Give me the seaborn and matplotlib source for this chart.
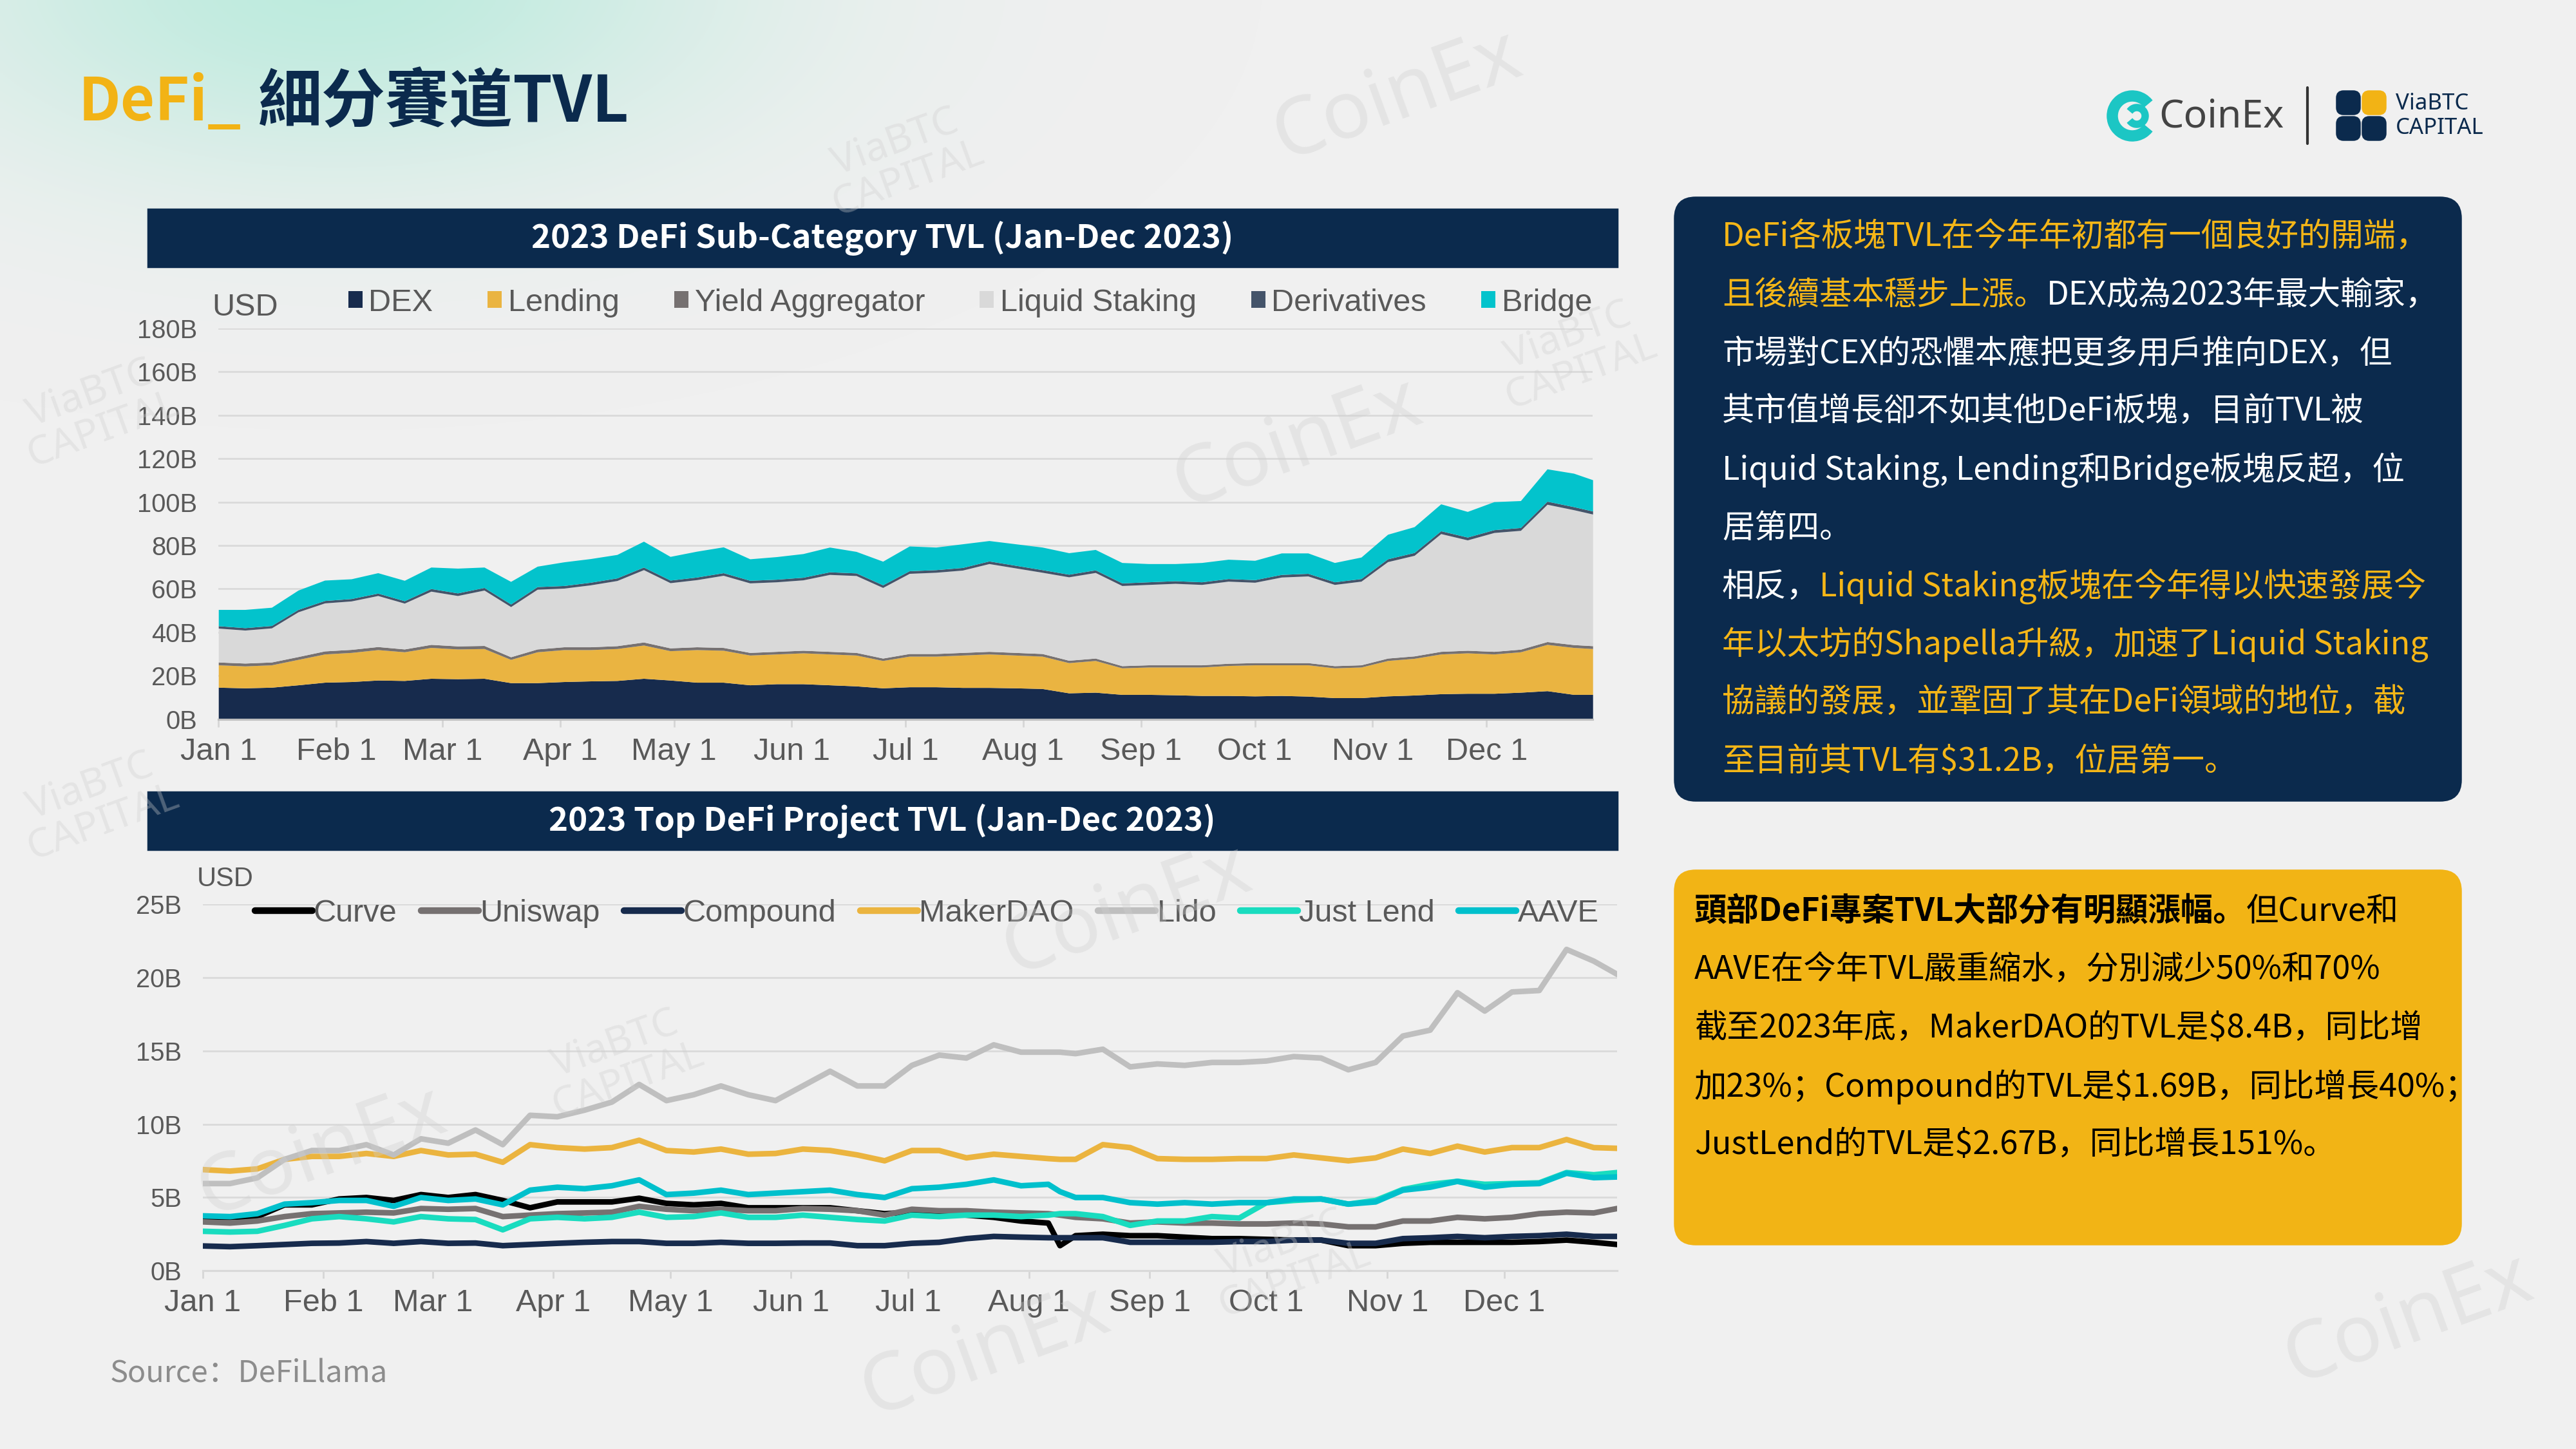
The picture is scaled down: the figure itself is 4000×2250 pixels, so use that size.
import numpy as np
import pandas as pd
import matplotlib
matplotlib.use("Agg")
import matplotlib.pyplot as plt
import seaborn as sns
from matplotlib.patches import Patch, FancyBboxPatch, Wedge, Rectangle
from matplotlib.lines import Line2D
from matplotlib.ticker import FuncFormatter

# ---------------- data: 2023 DeFi sub-category TVL (B USD) ----------------
days1 = list(range(0, 358, 7)) + [362]
dex = [14.7, 14.4, 14.7, 15.8, 17.0, 17.3, 18.0, 17.8, 18.8, 18.6, 18.8, 16.8, 16.8, 17.3, 17.6, 17.8,
       18.8, 18.0, 17.0, 17.0, 15.8, 16.3, 16.3, 15.8, 15.3, 14.4, 14.9, 14.9, 14.6, 14.6, 14.4, 14.1,
       12.1, 12.4, 11.4, 11.4, 11.2, 10.9, 10.9, 10.7, 10.9, 10.6, 9.9, 9.9, 10.7, 11.1, 11.7, 11.9,
       11.9, 12.4, 13.1, 11.4, 11.4]
lending = [10.3, 10.1, 10.3, 11.7, 13.0, 13.4, 14.0, 13.2, 14.2, 13.7, 13.7, 10.7, 14.2, 14.7, 14.4, 14.7,
           15.3, 13.5, 15.0, 14.7, 13.7, 13.7, 14.2, 14.2, 14.2, 12.6, 14.1, 14.1, 14.9, 15.4, 15.1, 14.9,
           13.9, 14.6, 12.2, 12.6, 12.8, 13.1, 13.8, 14.3, 14.1, 14.4, 13.7, 14.1, 16.3, 16.9, 18.3, 18.6,
           18.1, 18.6, 21.3, 21.6, 21.1]
yield_agg = [1.3, 1.3, 1.3, 1.3, 1.4, 1.4, 1.4, 1.3, 1.4, 1.4, 1.4, 1.2, 1.3, 1.3, 1.3, 1.3,
             1.4, 1.3, 1.3, 1.3, 1.2, 1.2, 1.2, 1.2, 1.2, 1.1, 1.2, 1.2, 1.2, 1.2, 1.2, 1.2,
             1.1, 1.1, 1.0, 1.0, 1.0, 1.0, 1.0, 1.0, 1.0, 1.0, 1.0, 1.0, 1.1, 1.1, 1.2, 1.2,
             1.2, 1.2, 1.3, 1.3, 1.3]
liquid = [15.6, 15.2, 15.7, 20.6, 22.1, 22.3, 23.5, 21.1, 24.5, 23.2, 25.5, 23.1, 27.5, 27.0, 28.5, 30.0,
          33.3, 30.0, 30.9, 33.2, 32.0, 32.0, 32.4, 35.4, 35.4, 32.5, 36.9, 37.4, 37.9, 40.4, 38.9, 37.4,
          38.4, 39.4, 36.9, 37.0, 37.5, 37.0, 37.8, 37.0, 39.4, 39.9, 37.4, 38.5, 44.4, 46.3, 54.2, 50.8,
          54.7, 54.7, 63.2, 62.1, 60.6]
deriv = [1.1, 1.1, 1.1, 1.1, 1.1, 1.1, 1.1, 1.1, 1.2, 1.2, 1.2, 1.2, 1.2, 1.2, 1.2, 1.2,
         1.2, 1.2, 1.2, 1.2, 1.2, 1.2, 1.2, 1.2, 1.2, 1.2, 1.2, 1.2, 1.2, 1.2, 1.2, 1.2,
         1.2, 1.2, 1.2, 1.2, 1.2, 1.2, 1.2, 1.2, 1.2, 1.2, 1.2, 1.2, 1.3, 1.3, 1.3, 1.3,
         1.3, 1.3, 1.4, 1.4, 1.4]
bridge = [7.5, 8.4, 8.4, 8.9, 9.4, 9.1, 9.4, 9.4, 9.9, 11.4, 9.4, 10.4, 9.4, 10.9, 10.9, 10.8,
          11.9, 10.9, 11.9, 11.9, 9.9, 10.4, 10.9, 11.4, 9.9, 10.9, 11.4, 10.4, 10.9, 9.4, 9.9, 10.4,
          9.9, 9.4, 9.4, 8.4, 7.9, 8.9, 8.9, 8.9, 9.9, 9.4, 8.9, 9.9, 11.3, 11.9, 12.4, 11.8,
          12.9, 12.4, 14.9, 15.4, 14.4]
categories = ["DEX", "Lending", "Yield Aggregator", "Liquid Staking", "Derivatives", "Bridge"]
cat_colors = ["#172B4D", "#EAB441", "#767171", "#D9D9D9", "#44546A", "#03C3CC"]

# ---------------- data: top DeFi projects TVL (B USD) ----------------
days2 = list(range(0, 218, 7)) + [220] + list(range(224, 358, 7)) + [363]
curve = [3.65, 3.65, 3.7, 4.5, 4.5, 4.9, 5.0, 4.8, 5.2, 5.0, 5.2, 4.8, 4.3, 4.7, 4.7, 4.7,
         4.95, 4.6, 4.5, 4.6, 4.3, 4.3, 4.3, 4.3, 4.1, 3.9,
         4.0, 3.95, 3.8, 3.65, 3.4, 3.26, 1.72, 2.4, 2.5, 2.4, 2.4, 2.3, 2.2, 2.2, 2.15, 2.1,
         2.1, 1.72, 1.72, 1.88, 1.95, 1.95, 1.95, 1.95, 2.0, 2.1, 1.95, 1.8]
uniswap = [3.34, 3.26, 3.4, 3.7, 3.9, 3.95, 4.0, 3.95, 4.25, 4.2, 4.25, 3.7, 3.8, 3.9, 3.95, 4.0,
           4.4, 4.2, 4.1, 4.2, 4.1, 4.1, 4.25, 4.2, 4.1, 3.8,
           4.2, 4.1, 4.1, 4.0, 3.95, 3.9, 3.8, 3.65, 3.55, 3.26, 3.34, 3.26, 3.26, 3.2, 3.2, 3.26,
           3.2, 3.0, 3.0, 3.4, 3.4, 3.65, 3.55, 3.65, 3.9, 4.0, 3.95, 4.25]
compound = [1.7, 1.65, 1.72, 1.8, 1.88, 1.9, 2.0, 1.88, 2.0, 1.88, 1.9, 1.72, 1.8, 1.88, 1.95, 2.0,
            2.0, 1.88, 1.88, 1.95, 1.88, 1.88, 1.9, 1.9, 1.72, 1.72,
            1.88, 1.95, 2.2, 2.35, 2.3, 2.26, 2.26, 2.26, 2.26, 1.95, 1.95, 1.95, 1.95, 2.0, 2.0, 2.1,
            2.1, 1.88, 1.88, 2.2, 2.26, 2.35, 2.26, 2.35, 2.4, 2.5, 2.35, 2.35]
makerdao = [6.9, 6.8, 6.95, 7.6, 7.8, 7.8, 8.0, 7.8, 8.2, 7.9, 7.95, 7.4, 8.6, 8.4, 8.3, 8.4,
            8.9, 8.2, 8.1, 8.3, 7.95, 8.0, 8.3, 8.2, 7.9, 7.5,
            8.2, 8.2, 7.7, 7.95, 7.8, 7.65, 7.6, 7.6, 8.6, 8.4, 7.65, 7.6, 7.6, 7.65, 7.65, 7.9,
            7.7, 7.5, 7.7, 8.3, 8.0, 8.5, 8.1, 8.4, 8.4, 8.95, 8.4, 8.35]
lido = [5.95, 5.95, 6.34, 7.6, 8.2, 8.2, 8.6, 7.9, 9.0, 8.7, 9.6, 8.6, 10.6, 10.5, 10.95, 11.5,
        12.7, 11.6, 12.0, 12.6, 12.0, 11.6, 12.6, 13.6, 12.6, 12.6,
        14.0, 14.7, 14.5, 15.4, 14.9, 14.9, 14.9, 14.8, 15.1, 13.9, 14.1, 14.0, 14.2, 14.2, 14.3, 14.6,
        14.5, 13.7, 14.2, 16.0, 16.4, 18.95, 17.7, 19.0, 19.1, 21.9, 21.1, 20.2]
justlend = [2.7, 2.65, 2.7, 3.1, 3.55, 3.7, 3.55, 3.34, 3.7, 3.55, 3.5, 2.8, 3.55, 3.65, 3.55, 3.65,
            4.0, 3.65, 3.7, 3.95, 3.65, 3.65, 3.8, 3.65, 3.5, 3.4,
            3.8, 3.7, 3.8, 3.8, 3.7, 3.8, 3.9, 3.9, 3.7, 3.1, 3.4, 3.4, 3.7, 3.6, 4.65, 4.8,
            4.9, 4.55, 4.8, 5.55, 5.9, 6.1, 5.9, 5.95, 6.0, 6.7, 6.55, 6.7]
aave = [3.75, 3.7, 3.9, 4.55, 4.65, 4.8, 4.8, 4.4, 5.0, 4.8, 4.9, 4.5, 5.5, 5.7, 5.6, 5.8,
        6.2, 5.2, 5.3, 5.5, 5.2, 5.3, 5.4, 5.5, 5.2, 5.0,
        5.6, 5.7, 5.9, 6.2, 5.8, 5.9, 5.4, 5.0, 5.0, 4.65, 4.55, 4.65, 4.55, 4.65, 4.65, 4.9,
        4.9, 4.55, 4.7, 5.5, 5.7, 6.1, 5.7, 5.9, 5.95, 6.65, 6.35, 6.4]
projects = ["Curve", "Uniswap", "Compound", "MakerDAO", "Lido", "Just Lend", "AAVE"]
proj_colors = ["#000000", "#767171", "#172B4D", "#EBB43F", "#BFBFBF", "#19DCBF", "#00C0CC"]

# ---------------- text ----------------
box1_lines = [
    [("DeFi各板塊TVL在今年年初都有一個良好的開端，", "o")],
    [("且後續基本穩步上漲。", "o"), ("DEX成為2023年最大輸家，", "w")],
    [("市場對CEX的恐懼本應把更多用戶推向DEX，但", "w")],
    [("其市值增長卻不如其他DeFi板塊，目前TVL被", "w")],
    [("Liquid Staking, Lending和Bridge板塊反超，位", "w")],
    [("居第四。", "w")],
    [("相反，", "w"), ("Liquid Staking板塊在今年得以快速發展今", "o")],
    [("年以太坊的Shapella升級，加速了Liquid Staking", "o")],
    [("協議的發展，並鞏固了其在DeFi領域的地位，截", "o")],
    [("至目前其TVL有$31.2B，位居第一。", "o")],
]
box2_lines = [
    [("頭部DeFi專案TVL大部分有明顯漲幅。", "bold"), ("但Curve和", "normal")],
    [("AAVE在今年TVL嚴重縮水，分別減少50%和70%", "normal")],
    [("截至2023年底，MakerDAO的TVL是$8.4B，同比增", "normal")],
    [("加23%；Compound的TVL是$1.69B，同比增長40%；", "normal")],
    [("JustLend的TVL是$2.67B，同比增長151%。", "normal")],
]

NAVY = "#0B2A4D"
ORANGE = "#F5B617"
BG = "#F0F0F0"
GRAY_TXT = "#595959"
CJK = ["Noto Sans CJK SC", "DejaVu Sans"]

sns.set_theme(style="white", rc={"axes.facecolor": "none", "figure.facecolor": BG})
plt.rcParams["font.family"] = ["Liberation Sans", "DejaVu Sans"]

fig = plt.figure(figsize=(16, 9), dpi=250)
renderer = fig.canvas.get_renderer()

# full-figure canvas in pixel coordinates (y down)
cv = fig.add_axes([0, 0, 1, 1], zorder=0)
cv.set_xlim(0, 4000)
cv.set_ylim(2250, 0)
cv.axis("off")

# soft mint glow top-left
yy, xx = np.mgrid[0:2250:5, 0:4000:5]
alpha = 0.85 * np.exp(-(((xx - 520) / 620.0) ** 2 + ((yy + 30) / 300.0) ** 2))
glow = np.zeros(xx.shape + (4,))
glow[..., 0], glow[..., 1], glow[..., 2] = 0.71, 0.92, 0.86
glow[..., 3] = alpha
cv.imshow(glow, extent=[0, 4000, 2250, 0], interpolation="bilinear", zorder=0)


def put_line(x, y, segs, size, family=CJK):
    # segs: (text, colour, weight[, size]); a number in place of a tuple is a gap in px
    for seg in segs:
        if isinstance(seg, (int, float)):
            x += seg
            continue
        s, col, wt = seg[:3]
        fs = seg[3] if len(seg) > 3 else size
        t = cv.text(x, y, s, color=col, fontsize=fs, fontweight=wt, family=family,
                    ha="left", va="center", zorder=5)
        x += t.get_window_extent(renderer).width


# title
put_line(122, 160, [("DeFi_", "#F2B315", "bold", 26.5), 26, ("細分賽道TVL", NAVY, "bold")], 28.5)

# logos (simplified)
cv.add_patch(Wedge((3311, 180), 38, 40, 320, width=14, color="#1CC6C4", zorder=5))
cv.add_patch(Wedge((3318, 180), 17, 220, 140, width=8, color="#1CC6C4", zorder=5))
cv.text(3352, 182, "CoinEx", fontsize=17.5, color="#444444", family="Noto Sans",
        fontweight="medium", ha="left", va="center", zorder=5)
cv.plot([3583, 3583], [136, 223], color="#333333", lw=1.2, zorder=5)
for (qx, qy, qc) in [(3629, 142, NAVY), (3669, 142, "#F2B315"), (3629, 182, NAVY), (3669, 182, NAVY)]:
    cv.add_patch(FancyBboxPatch((qx, qy), 35, 35, boxstyle="round,pad=0,rounding_size=10",
                                color=qc, zorder=5))
cv.text(3720, 161, "ViaBTC", fontsize=10, fontweight="bold", color=NAVY, family="Noto Sans",
        ha="left", va="center", zorder=5)
cv.text(3720, 199, "CAPITAL", fontsize=10, fontweight="bold", color=NAVY, family="Noto Sans",
        ha="left", va="center", zorder=5)

# chart header bars
for (y0, y1, label) in [(325, 414, "2023 DeFi Sub-Category TVL (Jan-Dec 2023)"),
                        (1230, 1319, "2023 Top DeFi Project TVL (Jan-Dec 2023)")]:
    cv.add_patch(Rectangle((230, y0), 2281, y1 - y0, color=NAVY, zorder=3))
    cv.text(1370, (y0 + y1) / 2, label, color="white", fontsize=14.7, fontweight="bold",
            family=CJK, ha="center", va="center", zorder=5)

# text panels
cv.add_patch(FancyBboxPatch((2601, 307), 1220, 936, boxstyle="round,pad=0,rounding_size=32",
                            color=NAVY, zorder=3))
cmap = {"o": ORANGE, "w": "white"}
for i, line in enumerate(box1_lines):
    put_line(2674, 369 + i * 90.4, [(s, cmap[c], "normal") for s, c in line], 14.5)

cv.add_patch(FancyBboxPatch((2601, 1352), 1220, 580, boxstyle="round,pad=0,rounding_size=32",
                            color="#F2B415", zorder=3))
for i, line in enumerate(box2_lines):
    put_line(2631, 1416 + i * 90.6, [(s, "#000000", w) for s, w in line], 14.5)

# labels / source
cv.text(329, 477, "USD", fontsize=14, color=GRAY_TXT, ha="left", va="center", zorder=5)
cv.text(306, 1365, "USD", fontsize=12, color=GRAY_TXT, ha="left", va="center", zorder=5)
cv.text(171, 2133, "Source：DeFiLlama", fontsize=13.5, color="#8C8C8C", family=CJK,
        ha="left", va="center", zorder=5)

month_ticks = pd.date_range("2023-01-01", "2023-12-01", freq="MS")
month_labels = [f"{d:%b} 1" for d in month_ticks]
fmt_b = FuncFormatter(lambda v, p: f"{v:.0f}B")


def style_axis(ax, ypad):
    sns.despine(ax=ax, left=True, top=True, right=True)
    ax.spines["bottom"].set_color("#BFBFBF")
    ax.spines["bottom"].set_linewidth(0.9)
    ax.yaxis.grid(True, color="#DADADA", lw=0.8)
    ax.xaxis.grid(False)
    ax.set_axisbelow(True)
    ax.set_xticks(month_ticks)
    ax.set_xticklabels(month_labels)
    ax.yaxis.set_major_formatter(fmt_b)
    ax.tick_params(axis="x", length=3.5, width=0.8, color="#D6D6D6", pad=4.5,
                   labelsize=14, labelcolor=GRAY_TXT, bottom=True)
    ax.tick_params(axis="y", length=0, pad=ypad, labelsize=11.5, labelcolor=GRAY_TXT)
    ax.set_xlabel("")
    ax.set_ylabel("")


# ---------------- chart 1: stacked area ----------------
dates1 = pd.Timestamp("2023-01-01") + pd.to_timedelta(days1, unit="D")
ax1 = fig.add_axes([0.0848, 0.5036, 0.5335, 0.2699], zorder=2)
ax1.stackplot(dates1, dex, lending, yield_agg, liquid, deriv, bridge,
              colors=cat_colors, linewidth=0)
ax1.set_xlim(dates1[0], dates1[-1])
ax1.set_ylim(0, 180)
ax1.set_yticks(range(0, 181, 20))
style_axis(ax1, 9.5)

fig.legend([Patch(facecolor=c, edgecolor="none") for c in cat_colors], categories,
           loc="center left", bbox_to_anchor=(0.1352, 0.791), ncol=6, frameon=False,
           fontsize=14, labelcolor=GRAY_TXT, handlelength=0.45, handleheight=0.45,
           handletextpad=0.2, columnspacing=1.75, borderpad=0, borderaxespad=0)

# ---------------- chart 2: project lines ----------------
dates2 = pd.Timestamp("2023-01-01") + pd.to_timedelta(days2, unit="D")
series2 = [curve, uniswap, compound, makerdao, lido, justlend, aave]
df2 = pd.concat([pd.DataFrame({"date": dates2, "tvl": v, "project": n})
                 for n, v in zip(projects, series2)], ignore_index=True)
ax2 = fig.add_axes([0.0787, 0.1229, 0.5491, 0.2533], zorder=2)
sns.lineplot(data=df2, x="date", y="tvl", hue="project", hue_order=projects,
             palette=proj_colors, linewidth=2.5, legend=False, ax=ax2)
ax2.set_xlim(dates2[0], dates2[-1])
ax2.set_ylim(0, 25)
ax2.set_yticks(range(0, 26, 5))
style_axis(ax2, 9.5)
ax2.spines["bottom"].set_color("#D9D9D9")

fig.legend([Line2D([0], [0], color=c, lw=3) for c in proj_colors], projects,
           loc="center left", bbox_to_anchor=(0.0989, 0.3696), ncol=7, frameon=False,
           fontsize=14, labelcolor=GRAY_TXT, handlelength=1.83, handletextpad=0.05,
           columnspacing=0.77, borderpad=0, borderaxespad=0)

# faint watermarks
wm = fig.add_axes([0, 0, 1, 1], zorder=6)
wm.set_xlim(0, 4000)
wm.set_ylim(2250, 0)
wm.axis("off")
for (x, y) in [(2170, 150), (2015, 690), (1530, 2100), (3740, 2050), (500, 1790), (1750, 1415)]:
    wm.text(x, y, "CoinEx", fontsize=36, color="#CFCFCF", alpha=0.35, rotation=20,
            ha="center", va="center", family="Noto Sans")
for (x, y) in [(1400, 250), (2445, 550), (150, 640), (965, 1650), (2000, 1960), (150, 1250)]:
    wm.text(x, y, "ViaBTC\nCAPITAL", fontsize=18, color="#CFCFCF", alpha=0.35, rotation=20,
            ha="center", va="center", family="Noto Sans", linespacing=0.95)

fig.savefig("out.png", dpi=250, facecolor=BG)
